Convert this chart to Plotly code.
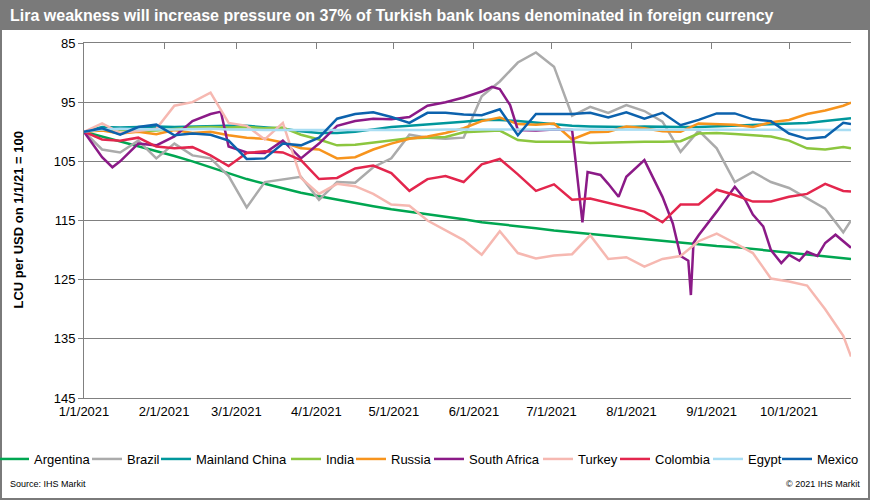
import plotly.graph_objects as go

# weekly observations, LCU per USD indexed to 1/1/21 = 100
dates = ['2021-01-01', '2021-01-08', '2021-01-15', '2021-01-22', '2021-01-29',
         '2021-02-05', '2021-02-12', '2021-02-19', '2021-02-26',
         '2021-03-05', '2021-03-12', '2021-03-19', '2021-03-26',
         '2021-04-02', '2021-04-09', '2021-04-16', '2021-04-23', '2021-04-30',
         '2021-05-07', '2021-05-14', '2021-05-21', '2021-05-28',
         '2021-06-04', '2021-06-11', '2021-06-18', '2021-06-25',
         '2021-07-02', '2021-07-09', '2021-07-16', '2021-07-23', '2021-07-30',
         '2021-08-06', '2021-08-13', '2021-08-20', '2021-08-27',
         '2021-09-03', '2021-09-10', '2021-09-17', '2021-09-24',
         '2021-10-01', '2021-10-08', '2021-10-15', '2021-10-22', '2021-10-25']

argentina = [100.0, 100.8, 101.7, 102.5, 103.3, 104.1, 105.0, 106.0, 107.0,
             108.0, 108.8, 109.6, 110.3, 110.9, 111.5, 112.0, 112.6, 113.1,
             113.5, 113.9, 114.4, 114.8, 115.3, 115.6, 116.0, 116.3,
             116.7, 117.0, 117.3, 117.6, 117.9, 118.2, 118.5, 118.7, 119.0,
             119.3, 119.5, 119.8, 120.1, 120.4, 120.7, 121.0, 121.3, 121.5]
brazil = [100.0, 103.0, 103.5, 101.5, 104.5, 102.0, 104.0, 104.5, 107.5,
          112.8, 108.5, 108.0, 107.6, 111.5, 108.5, 108.6, 106.0, 104.5,
          100.5, 101.0, 101.2, 101.0, 94.0, 91.5, 88.3, 86.6,
          89.0, 97.3, 95.8, 96.8, 95.5, 96.5, 98.3, 103.4, 99.8,
          102.8, 108.5, 106.8, 108.5, 109.5, 111.2, 113.0, 117.0, 115.0]
china = [100.0, 99.2, 99.3, 99.2, 99.1, 99.2, 99.1, 99.0, 99.0,
         99.0, 99.2, 99.5, 99.9, 100.2, 100.2, 100.0, 99.6, 99.2,
         99.0, 98.8, 98.6, 98.3, 98.0, 98.0, 98.2, 98.5,
         98.8, 99.0, 99.1, 99.2, 99.2, 99.1, 99.2, 99.2, 99.2,
         99.1, 99.0, 98.9, 98.8, 98.7, 98.5, 98.2, 97.9, 97.7]
india = [100.0, 99.6, 99.7, 99.9, 99.8, 99.5, 99.3, 99.2, 99.3,
         99.2, 99.4, 99.3, 100.5, 101.3, 102.3, 102.2, 101.8, 101.5,
         101.1, 101.0, 100.9, 100.1, 100.0, 99.8, 101.4, 101.7,
         101.7, 101.7, 101.9, 101.8, 101.8, 101.7, 101.7, 101.6, 100.3,
         100.2, 100.4, 100.6, 100.8, 101.5, 102.8, 103.0, 102.6, 102.8]
russia = [100.0, 99.8, 100.3, 100.0, 100.4, 99.7, 100.2, 100.0, 100.6,
          101.0, 101.2, 101.8, 102.8, 103.0, 104.5, 104.3, 103.0, 102.0,
          101.2, 100.8, 100.2, 99.4, 98.2, 97.6, 98.7, 98.8,
          98.6, 101.3, 100.1, 100.0, 99.1, 99.4, 99.9, 100.0, 98.6,
          98.7, 98.8, 99.2, 98.4, 98.0, 97.0, 96.4, 95.6, 95.1]
turkey = [100.0, 98.6, 100.2, 99.8, 99.5, 95.6, 95.0, 93.4, 98.5,
          99.0, 101.3, 98.5, 107.8, 110.5, 108.8, 109.2, 110.5, 112.3,
          112.5, 115.0, 116.6, 118.3, 120.8, 116.8, 120.5, 121.4,
          120.9, 120.7, 117.5, 121.5, 121.2, 122.8, 121.5, 121.0, 118.5,
          117.2, 118.8, 120.5, 124.8, 125.3, 126.0, 130.0, 134.5, 138.0]
colombia = [100.0, 101.3, 101.5, 101.0, 102.5, 102.8, 102.6, 104.0, 105.8,
            103.6, 103.3, 103.5, 104.8, 108.0, 107.8, 106.2, 105.7, 107.0,
            110.0, 108.0, 107.5, 108.5, 105.5, 104.6, 107.2, 110.0,
            108.9, 111.5, 111.3, 112.0, 112.8, 113.5, 115.3, 112.3, 112.3,
            109.8, 110.7, 111.8, 111.8, 111.0, 110.5, 108.8, 110.0, 110.1]
egypt = [100.0, 99.6, 99.5, 99.6, 99.6, 99.6, 99.5, 99.5, 99.6,
         99.7, 99.7, 99.7, 99.7, 99.8, 99.8, 99.7, 99.7, 99.7,
         99.7, 99.7, 99.6, 99.6, 99.6, 99.7, 99.7, 99.7,
         99.7, 99.7, 99.7, 99.7, 99.6, 99.6, 99.6, 99.6, 99.7,
         99.7, 99.7, 99.7, 99.7, 99.7, 99.7, 99.7, 99.7, 99.7]
mexico = [100.0, 99.4, 100.5, 99.2, 98.8, 100.6, 100.3, 100.5, 101.5,
          104.6, 104.5, 102.0, 102.3, 101.0, 97.8, 97.0, 96.7, 97.5,
          98.5, 96.8, 96.8, 97.1, 97.2, 96.2, 100.6, 97.0,
          97.0, 97.0, 96.8, 97.6, 96.7, 97.8, 96.8, 98.9, 98.0,
          96.9, 96.9, 97.9, 98.2, 100.3, 101.2, 100.9, 98.5, 98.7]

# South Africa has extra dates for its sharp one-day moves
sa_dates = ['2021-01-01', '2021-01-08', '2021-01-12', '2021-01-15', '2021-01-22',
            '2021-01-29', '2021-02-05', '2021-02-12', '2021-02-19', '2021-02-23',
            '2021-02-26', '2021-03-05', '2021-03-12', '2021-03-19', '2021-03-26',
            '2021-04-02', '2021-04-09', '2021-04-16', '2021-04-23', '2021-04-30',
            '2021-05-07', '2021-05-14', '2021-05-21', '2021-05-28', '2021-06-04',
            '2021-06-08', '2021-06-11', '2021-06-15', '2021-06-18', '2021-06-25',
            '2021-07-02', '2021-07-09', '2021-07-13', '2021-07-15', '2021-07-20',
            '2021-07-23', '2021-07-27', '2021-07-30', '2021-08-06', '2021-08-13',
            '2021-08-17', '2021-08-20', '2021-08-23', '2021-08-24', '2021-08-25',
            '2021-08-27', '2021-09-03', '2021-09-10', '2021-09-14', '2021-09-17',
            '2021-09-21', '2021-09-24', '2021-09-28', '2021-10-01', '2021-10-05',
            '2021-10-08', '2021-10-12', '2021-10-15', '2021-10-19', '2021-10-22',
            '2021-10-25']
south_africa = [100.0, 104.3, 106.0, 105.0, 102.0, 102.3, 100.8, 98.2, 97.0, 96.6,
                102.5, 103.5, 103.6, 101.5, 104.5, 102.0, 99.0, 98.2, 97.8, 97.9,
                97.5, 95.6, 95.0, 94.2, 93.2, 92.4, 92.8, 95.5, 99.7, 99.8,
                99.6, 99.7, 115.3, 106.8, 107.3, 108.8, 111.0, 107.6, 104.8, 111.0,
                115.5, 121.0, 121.8, 127.6, 118.8, 117.5, 113.5, 109.3, 111.5, 114.0,
                116.0, 120.0, 122.2, 120.8, 121.8, 120.3, 121.0, 118.8, 117.4, 118.5,
                119.6]

month_ticks = ['2021-01-01', '2021-02-01', '2021-03-01', '2021-04-01', '2021-05-01',
               '2021-06-01', '2021-07-01', '2021-08-01', '2021-09-01', '2021-10-01']
month_labels = ['1/1/2021', '2/1/2021', '3/1/2021', '4/1/2021', '5/1/2021',
                '6/1/2021', '7/1/2021', '8/1/2021', '9/1/2021', '10/1/2021']
y_ticks = [85, 95, 105, 115, 125, 135, 145]

series = [
    ('Argentina', dates, argentina, '#00A651'),
    ('Brazil', dates, brazil, '#ABABAB'),
    ('Mainland China', dates, china, '#00979C'),
    ('India', dates, india, '#8CC63F'),
    ('Russia', dates, russia, '#F7941D'),
    ('South Africa', sa_dates, south_africa, '#8B1A87'),
    ('Turkey', dates, turkey, '#F6B8B1'),
    ('Colombia', dates, colombia, '#E3264D'),
    ('Egypt', dates, egypt, '#A9DDF3'),
    ('Mexico', dates, mexico, '#0C62AD'),
]

# left pixel where each legend label starts (one legend box per series)
legend_text_px = [36, 129, 198, 328, 393, 471, 580, 657, 750, 819]

FONT = 'Liberation Sans Narrow, Arial Narrow, Liberation Sans, Arial'
GRID = '#808080'

# plot area in pixels: left 84, right 851, top 43, bottom 398
def px_x(p):
    return (p - 84) / 767

def px_y(p):
    return (398 - p) / 355

fig = go.Figure()
legends = {}
for i, (name, x, y, color) in enumerate(series):
    key = 'legend' if i == 0 else 'legend%d' % (i + 1)
    fig.add_trace(go.Scatter(x=x, y=y, name=name, mode='lines', legend=key,
                             line=dict(color=color, width=2.5)))
    legends[key] = dict(orientation='h', x=px_x(legend_text_px[i] - 42), y=px_y(459),
                        xanchor='left', yanchor='middle', font=dict(size=13),
                        bgcolor='rgba(0,0,0,0)', borderwidth=0)

fig.update_layout(
    width=870, height=500,
    margin=dict(l=84, r=19, t=43, b=102, autoexpand=False),
    paper_bgcolor='white', plot_bgcolor='white',
    font=dict(family=FONT, size=13, color='#000000'),
    showlegend=True,
    xaxis=dict(type='date', range=['2021-01-01', '2021-10-25'],
               tickmode='array', tickvals=month_ticks, ticktext=month_labels,
               showgrid=False, showline=True, linecolor=GRID, ticks='',
               ticklabelstandoff=1, tickfont=dict(size=13)),
    xaxis2=dict(type='date', overlaying='x', side='top', matches='x',
                range=['2021-01-01', '2021-10-25'],
                tickmode='array', tickvals=month_ticks,
                ticks='inside', ticklen=6, tickcolor=GRID,
                showticklabels=False, showline=True, linecolor=GRID, showgrid=False),
    yaxis=dict(range=[145, 85], tickmode='array', tickvals=y_ticks,
               showgrid=True, gridcolor=GRID, gridwidth=1, zeroline=False,
               showline=True, linecolor=GRID, ticks='outside', ticklen=5,
               tickcolor=GRID, tickfont=dict(size=13)),
    **legends,
)

# dummy trace so the top axis with its tick marks gets drawn
fig.add_trace(go.Scatter(x=dates, y=egypt, xaxis='x2', mode='lines',
                         line=dict(width=0), opacity=0, showlegend=False,
                         hoverinfo='skip'))

fig.add_shape(type='rect', xref='paper', yref='paper',
              x0=px_x(0), x1=px_x(870), y0=px_y(30), y1=px_y(0),
              fillcolor='#7A7A7A', line=dict(width=0), layer='above')
fig.add_shape(type='rect', xref='paper', yref='paper',
              x0=px_x(1), x1=px_x(869), y0=px_y(499), y1=px_y(1),
              fillcolor='rgba(0,0,0,0)', line=dict(color='#7A7A7A', width=2))

fig.add_annotation(text='<b>Lira weakness will increase pressure on 37% of Turkish bank loans denominated in foreign currency</b>',
                   xref='paper', yref='paper', x=px_x(8), y=px_y(15),
                   xanchor='left', yanchor='middle', showarrow=False,
                   font=dict(size=16, color='white', family=FONT))
fig.add_annotation(text='<b>LCU per USD on 1/1/21 = 100</b>',
                   xref='paper', yref='paper', x=px_x(18), y=0.5,
                   xanchor='center', yanchor='middle', textangle=-90, showarrow=False,
                   font=dict(size=13, family=FONT))
fig.add_annotation(text='Source: IHS Markit', xref='paper', yref='paper',
                   x=px_x(8), y=px_y(484), xanchor='left', yanchor='middle',
                   showarrow=False, font=dict(size=9, family=FONT))
fig.add_annotation(text='© 2021 IHS Markit', xref='paper', yref='paper',
                   x=px_x(862), y=px_y(484), xanchor='right', yanchor='middle',
                   showarrow=False, font=dict(size=9, family=FONT))

# the page's default body margin would push the figure off the window
fig.write_html('out.html', config={'displayModeBar': False},
               post_script="document.body.style.margin='0';")
